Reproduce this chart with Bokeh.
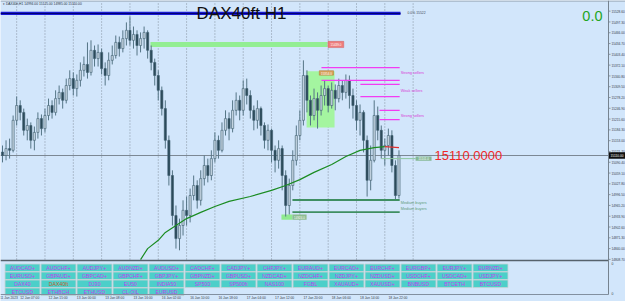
from bokeh.plotting import figure
from bokeh.models import Range1d, ColumnDataSource
from bokeh.embed import file_html
from bokeh.resources import INLINE
from bokeh.core.properties import value

# ---------------- data ----------------
symbol = "DAX40ft"
timeframe = "H1"
first_open = 15120

close = [15110, 15130, 15125, 15212, 15255, 15235, 15183, 15197, 15154, 15177,
         15217, 15188, 15226, 15255, 15235, 15275, 15293, 15270, 15313, 15333,
         15304, 15328, 15357, 15374, 15351, 15415, 15391, 15409, 15362, 15342,
         15386, 15400, 15438, 15420, 15449, 15473, 15444, 15461, 15429, 15449,
         15467, 15415, 15380, 15342, 15299, 15246, 15154, 15052, 14936, 14869,
         14907, 14951, 14936, 14994, 15023, 14980, 15043, 15081, 15052, 15101,
         15154, 15125, 15183, 15217, 15188, 15241, 15270, 15241, 15304, 15284,
         15241, 15212, 15246, 15197, 15154, 15183, 15125, 15096, 15130, 15052,
         14965, 15023, 15096, 15168, 15212, 15342, 15270, 15226, 15275, 15241,
         15284, 15304, 15255, 15299, 15275, 15313, 15293, 15328, 15284, 15255,
         15212, 15235, 15154, 15038, 15096, 15226, 15183, 15125, 15139, 15168,
         15081, 14994, 15110]
high = [15139, 15154, 15159, 15226, 15281, 15270, 15246, 15217, 15206, 15194,
        15235, 15229, 15246, 15275, 15270, 15299, 15313, 15304, 15333, 15357,
        15351, 15345, 15380, 15397, 15438, 15444, 15429, 15432, 15420, 15380,
        15409, 15429, 15458, 15455, 15473, 15496, 15513, 15484, 15473, 15467,
        15484, 15473, 15429, 15391, 15357, 15310, 15270, 15168, 15067, 14965,
        14927, 14980, 14991, 15014, 15052, 15038, 15067, 15110, 15101, 15125,
        15177, 15168, 15206, 15241, 15235, 15270, 15293, 15284, 15328, 15333,
        15299, 15255, 15270, 15252, 15206, 15200, 15188, 15139, 15154, 15139,
        15067, 15043, 15125, 15197, 15241, 15386, 15357, 15284, 15304, 15293,
        15313, 15328, 15313, 15322, 15316, 15333, 15328, 15345, 15342, 15304,
        15270, 15258, 15241, 15168, 15139, 15270, 15252, 15197, 15159, 15188,
        15183, 15096, 15125]
low = [15090, 15096, 15101, 15119, 15197, 15212, 15168, 15154, 15130, 15125,
       15159, 15168, 15177, 15212, 15217, 15226, 15258, 15246, 15261, 15299,
       15284, 15281, 15310, 15339, 15333, 15342, 15368, 15368, 15345, 15313,
       15328, 15374, 15391, 15397, 15409, 15429, 15429, 15420, 15400, 15409,
       15420, 15391, 15357, 15313, 15270, 15226, 15130, 15023, 14907, 14840,
       14835, 14878, 14907, 14916, 14980, 14956, 14965, 15023, 15032, 15038,
       15090, 15101, 15119, 15168, 15154, 15177, 15226, 15212, 15226, 15258,
       15217, 15183, 15188, 15168, 15130, 15125, 15090, 15061, 15072, 15009,
       14933, 14939, 15009, 15081, 15154, 15197, 15235, 15197, 15212, 15188,
       15226, 15255, 15235, 15246, 15241, 15264, 15270, 15275, 15246, 15217,
       15183, 15168, 15119, 14991, 15009, 15090, 15154, 15101, 15081, 15110,
       15061, 14980, 14985]

# moving average read at a few bars
ma_bar = [39, 41, 44, 46, 49, 52, 56, 60, 64, 70, 76, 80, 84, 88, 93, 97, 101, 105, 108]
ma_val = [14808, 14840, 14864, 14887, 14907, 14927, 14945, 14962, 14977, 14991,
          15009, 15023, 15040, 15061, 15084, 15107, 15125, 15133, 15136]
ma_tail_bar = [108, 112]
ma_tail_val = [15136, 15133]

current_price = 15110.0
bid_line_price = 15101.0
fib_price = 15522
fib_text = "0.0% 15522"

# zones (bar index left/right, price bottom/top)
band_left, band_right, band_bottom, band_top = 41.8, 91.8, 15425, 15439
zone_left, zone_right, zone_bottom, zone_top = 85.9, 93.8, 15191, 15354
small_left, small_right, small_bottom, small_top = 78.8, 81.9, 14924, 14939

# seller / buyer levels
seller_price = [15365, 15328, 15316, 15281, 15241, 15214]
seller_start = [90.1, 90.1, 101.1, 101.1, 106.5, 106.5]
seller_text = ["Strong sellers", "Weak sellers", "Strong sellers"]
seller_text_price = [15348, 15296, 15226]
buyer_price = [14981, 14946]
buyer_start = [81.9, 81.9]
buyer_text = ["Medium buyers", "Medium buyers"]
buyer_text_price = [14971, 14955]
level_end = 112.2

# right price scale
price_ticks = [15528.6, 15497.3, 15466.0, 15434.7, 15403.4, 15372.1, 15340.8, 15309.5,
               15278.2, 15246.9, 15215.6, 15184.3, 15153.0, 15121.7, 15090.4, 15059.1,
               15027.8, 14996.5, 14965.2, 14933.9, 14902.6, 14871.3, 14840.0, 14808.7]

# time scale
time_labels = ["11 Jan 2023", "12 Jan 07:00", "12 Jan 15:00", "13 Jan 00:00", "13 Jan 08:00",
               "13 Jan 16:00", "16 Jan 02:00", "16 Jan 10:00", "16 Jan 18:00", "17 Jan 04:00",
               "17 Jan 12:00", "17 Jan 20:00", "18 Jan 06:00", "18 Jan 14:00", "18 Jan 22:00"]
bars_per_label = 8

# symbol buttons
button_rows = [
    ["AUDCAD+", "AUDCHF+", "AUDJPY+", "AUDNZD+", "AUDUSD+", "CADCHF+", "CADJPY+",
     "CHFJPY+", "EURAUD+", "EURCAD+", "EURCHF+", "EURGBP+", "EURJPY+", "EURNZD+"],
    ["EURUSD+", "GBPAUD+", "GBPCAD+", "GBPCHF+", "GBPJPY+", "GBPNZD+", "GBPUSD+",
     "NZDCAD+", "NZDCHF+", "NZDJPY+", "NZDUSD+", "USDCHF+", "USDCAD+", "USDJPY+"],
    ["DAX40", "DAX40ft", "DJ30", "EU50", "INDIA50", "SP500", "SP500ft",
     "NAS100", "FGBL", "XAUAUD+", "XAUUSD+", "BNBUSD", "BTCETH", "BTCUSD"],
    ["ETCUSD", "ETHBCH", "ETHUSD", "CL-OIL", "EURUSD"],
]

# ---------------- styling ----------------
W, H = 625, 301
BG = "#D2E6FB"
FONT = value("Liberation Sans")
n = len(close)
opens = [first_open] + close[:-1]
idx = list(range(n))

p = figure(width=W, height=H, x_range=Range1d(-0.565, 175.99),
           y_range=Range1d(14686.6, 15559.5), output_backend="svg",
           toolbar_location=None, tools="", min_border=0,
           x_axis_location=None, y_axis_location=None,
           background_fill_color=BG, border_fill_color=BG, outline_line_color=None)
p.grid.visible = False
p.extra_x_ranges = {"px": Range1d(0, W), "cols": Range1d(-22 / 36, (W - 22) / 36)}
p.extra_y_ranges = {"px": Range1d(H, 0), "rows": Range1d((H - 267.3) / 8, -267.3 / 8)}

# vertical dotted grid (one per time label)
grid_bars = [4 + bars_per_label * k for k in range(len(time_labels))]
p.segment(x0=grid_bars, x1=grid_bars, y0=3, y1=294, y_range_name="px",
          line_color="#8592A0", line_dash="1 2", line_width=1)

# zones
p.quad(left=[band_left], right=[band_right], bottom=[band_bottom], top=[band_top],
       fill_color="#93EE93", line_color=None)
p.quad(left=[zone_left], right=[zone_right], bottom=[zone_bottom], top=[zone_top],
       fill_color="#A4F5A0", line_color=None)
p.quad(left=[small_left], right=[small_right], bottom=[small_bottom], top=[small_top],
       fill_color="#8FEA8F", line_color=None)

# fib / top line
p.segment(x0=[0], x1=[400], y0=[fib_price], y1=[fib_price], x_range_name="px",
          line_color="#1A1AD8", line_width=3.2)
p.segment(x0=[0], x1=[400], y0=[fib_price], y1=[fib_price], x_range_name="px",
          line_color="#00006A", line_width=1)
p.text(x=[407], y=[fib_price], text=[fib_text], x_range_name="px", text_font=FONT,
       text_font_size="3.4px", text_color="#404850", text_baseline="middle")

# price line
p.segment(x0=[0], x1=[608], y0=[current_price], y1=[current_price], x_range_name="px",
          line_color="#7C8894", line_width=1.2)

# candles
up = [c >= o for c, o in zip(close, opens)]
src = ColumnDataSource(dict(
    x=idx, o=opens, c=close, h=high, l=low,
    top=[max(a, b) for a, b in zip(opens, close)],
    bot=[min(a, b) for a, b in zip(opens, close)],
    fill=["#C3D3E0" if u else "#2C4A5A" for u in up],
))
p.segment(x0="x", x1="x", y0="l", y1="h", source=src, line_color="#557586", line_width=1)
p.vbar(x="x", width=0.62, top="top", bottom="bot", source=src,
       fill_color="fill", line_color="#3F5F70", line_width=0.6)

# moving average
p.line(ma_bar, ma_val, line_color="#1B8C22", line_width=1.2)
p.line(ma_tail_bar, ma_tail_val, line_color="#E03030", line_width=1.2)

# seller / buyer levels
p.segment(x0=seller_start, x1=[level_end] * len(seller_price), y0=seller_price, y1=seller_price,
          line_color="#F23CF2", line_width=1.3)
p.text(x=[level_end + 0.3] * 3, y=seller_text_price, text=seller_text, text_font=FONT,
       text_font_size="3.8px", text_color="#D83CD8", text_baseline="middle")
p.segment(x0=buyer_start, x1=[level_end] * len(buyer_price), y0=buyer_price, y1=buyer_price,
          line_color="#3F8F62", line_width=1.8)
p.text(x=[level_end + 0.3] * 2, y=buyer_text_price, text=buyer_text, text_font=FONT,
       text_font_size="3.8px", text_color="#5E9C7A", text_baseline="middle")

# price tags
p.quad(left=[band_right + 0.15], right=[band_right + 4.6], bottom=[band_bottom - 2], top=[band_top + 2],
       fill_color="#EE7C7C", line_color="#D06060", line_width=0.5)
p.text(x=[band_right + 2.4], y=[(band_top + band_bottom) / 2], text=["%.1f" % band_top],
       text_font=FONT, text_font_size="3px", text_color="white", text_align="center",
       text_baseline="middle")
p.quad(left=[zone_left + 3.6], right=[zone_left + 7.6], bottom=[zone_top - 11], top=[zone_top + 2],
       fill_color="#D9A15A", line_color="#B07830", line_width=0.5)
p.text(x=[zone_left + 5.6], y=[zone_top - 4.5], text=["%.1f" % zone_top],
       text_font=FONT, text_font_size="3px", text_color="white", text_align="center",
       text_baseline="middle")
p.quad(left=[small_right], right=[small_right + 4], bottom=[small_bottom], top=[small_top],
       fill_color="#8CBC90", line_color=None)
p.text(x=[small_right + 2], y=[(small_top + small_bottom) / 2], text=["%.1f" % small_bottom],
       text_font=FONT, text_font_size="3px", text_color="white", text_align="center",
       text_baseline="middle")
p.segment(x0=[107], x1=[116.7], y0=[bid_line_price], y1=[bid_line_price],
          line_color="#8FC8A0", line_width=1)
p.quad(left=[116.7], right=[121.2], bottom=[bid_line_price - 6], top=[bid_line_price + 6],
       fill_color="#86B896", line_color=None)
p.text(x=[118.95], y=[bid_line_price], text=["%.1f" % bid_line_price], text_font=FONT,
       text_font_size="3px", text_color="white", text_align="center", text_baseline="middle")

# big red price text
p.text(x=[434], y=[current_price], text=["%.4f" % current_price], x_range_name="px",
       text_font=FONT, text_font_size="13px", text_color="#F02828", text_baseline="middle")

# sub-window background (buttons panel)
p.quad(left=[0], right=[608], bottom=[294], top=[260], x_range_name="px", y_range_name="px",
       fill_color=BG, line_color=None)
bx, by, bt, bc = [], [], [], []
for r, row in enumerate(button_rows):
    for c, name in enumerate(row):
        bx.append(c); by.append(r); bt.append(name)
        bc.append("#C0602A" if name == symbol else "#C23EF0")
bsrc = ColumnDataSource(dict(x=bx, y=by, t=bt, c=bc))
p.rect(x="x", y="y", width=0.97, height=0.94, source=bsrc, x_range_name="cols",
       y_range_name="rows", fill_color="#4CCFC9", line_color="#C4D2D4", line_width=0.8)
p.text(x="x", y="y", text="t", source=bsrc, x_range_name="cols", y_range_name="rows",
       text_font=FONT, text_font_size="5.2px", text_color="c", text_align="center",
       text_baseline="middle")

# window frames
p.segment(x0=[0, 0, 0, 608], x1=[625, 608, 608, 608], y0=[0.5, 260, 294, 0], y1=[0.5, 260, 294, 294],
          x_range_name="px", y_range_name="px",
          line_color=["#8C9AA8", "#56626C", "#8290A0", "#76838F"], line_width=[1, 1.6, 1, 1])

# right price scale
p.segment(x0=[608] * len(price_ticks), x1=[610] * len(price_ticks), y0=price_ticks, y1=price_ticks,
          x_range_name="px", line_color="#76838F", line_width=0.8)
p.text(x=[611] * len(price_ticks), y=price_ticks, text=["%.2f" % v for v in price_ticks],
       x_range_name="px", text_font=FONT, text_font_size="3.2px", text_color="#38424C",
       text_baseline="middle")
p.quad(left=[608.5], right=[624.5], bottom=[current_price - 9.5], top=[current_price + 9.5],
       x_range_name="px", fill_color="#101010", line_color=None)
p.text(x=[616.5], y=[current_price], text=["%.2f" % current_price], x_range_name="px",
       text_font=FONT, text_font_size="3.2px", text_color="white", text_align="center",
       text_baseline="middle")
p.text(x=[611, 611], y=[262.5, 292.5], text=["0", "0"], x_range_name="px", y_range_name="px",
       text_font=FONT, text_font_size="3.4px", text_color="#38424C", text_baseline="middle")

# time labels
label_bars = [1.8] + [bars_per_label * k - 0.3 for k in range(1, len(time_labels))]
p.text(x=label_bars, y=[297.5] * len(time_labels), text=time_labels, y_range_name="px",
       text_font=FONT, text_font_size="3.3px", text_color="#38424C", text_align="center",
       text_baseline="middle")

# header texts
info = "%s,%s  %.2f %.2f %.2f %.2f" % (symbol, timeframe, opens[-1], high[-1], low[-1], close[-1])
p.text(x=[2.5], y=[3.6], text=["\u25be " + info], x_range_name="px", y_range_name="px",
       text_font=FONT, text_font_size="3.3px", text_color="#28323C", text_baseline="middle")
p.text(x=[241], y=[12.5], text=["%s %s" % (symbol, timeframe)], x_range_name="px",
       y_range_name="px", text_font=FONT, text_font_size="17px", text_color="#101010",
       text_align="center", text_baseline="middle")
p.text(x=[602], y=[15], text=["0.0"], x_range_name="px", y_range_name="px",
       text_font=FONT, text_font_size="14.5px", text_color="#1FA51F", text_align="right",
       text_baseline="middle")

open("out.html", "w").write(file_html(p, INLINE))
